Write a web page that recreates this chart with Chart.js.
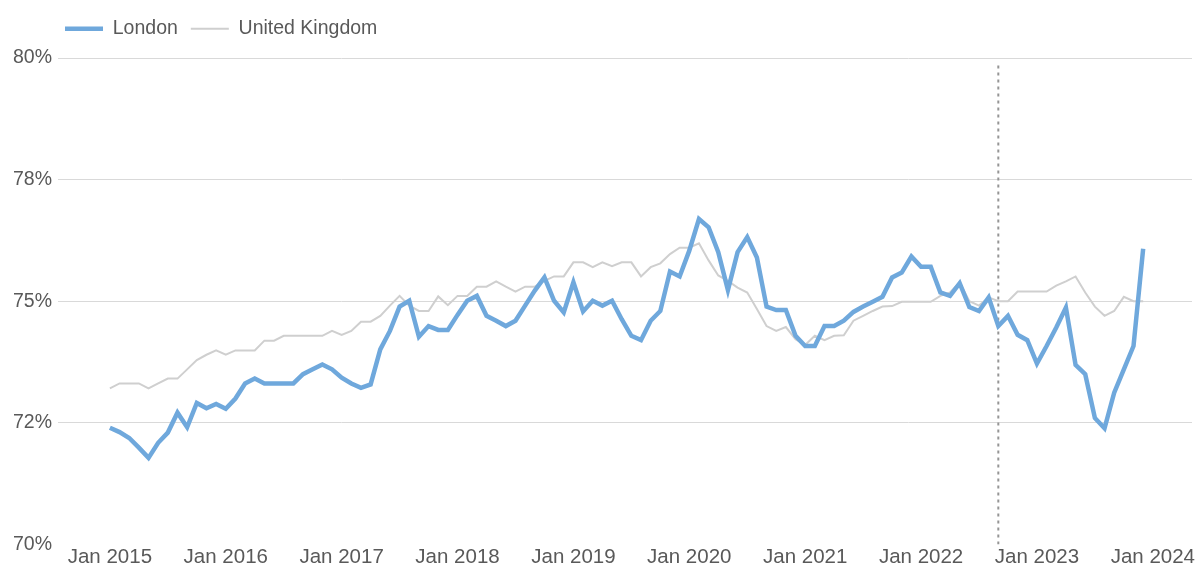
<!DOCTYPE html>
<html lang="en">
<head>
    <meta charset="UTF-8">
    <title>London vs United Kingdom</title>
    <script src="https://cdn.jsdelivr.net/npm/chart.js@4.4.1/dist/chart.umd.min.js"></script>
    <style>
        html, body { margin: 0; padding: 0; background: #ffffff; }
        #wrap { position: relative; width: 1198px; height: 566px; }
    </style>
</head>
<body>
    <div id="wrap"><canvas id="chart"></canvas></div>

    <script>
        // Monthly values, Jan 2015 to Dec 2023
        const londonValues = [
            72.40, 72.31, 72.19, 71.99, 71.78, 72.09, 72.30, 72.71, 72.41, 72.91, 72.80, 72.89,
            72.79, 73.00, 73.31, 73.41, 73.31, 73.31, 73.31, 73.31, 73.50, 73.60, 73.70, 73.60,
            73.43, 73.31, 73.22, 73.29, 74.01, 74.39, 74.89, 75.01, 74.27, 74.49, 74.41, 74.41,
            74.72, 75.01, 75.11, 74.70, 74.60, 74.49, 74.60, 74.91, 75.22, 75.49, 75.01, 74.77,
            75.39, 74.79, 75.01, 74.91, 75.01, 74.63, 74.29, 74.20, 74.60, 74.80, 75.61, 75.51,
            76.04, 76.69, 76.52, 76.01, 75.23, 76.01, 76.32, 75.90, 74.89, 74.82, 74.82, 74.29,
            74.08, 74.08, 74.49, 74.49, 74.60, 74.78, 74.89, 74.99, 75.09, 75.49, 75.59, 75.92,
            75.71, 75.71, 75.18, 75.11, 75.37, 74.88, 74.80, 75.08, 74.49, 74.70, 74.31, 74.20,
            73.72, 74.08, 74.46, 74.87, 73.69, 73.50, 72.60, 72.39, 73.12, 73.60, 74.08, 76.08
        ];
        const ukValues = [
            73.21, 73.31, 73.31, 73.31, 73.21, 73.31, 73.41, 73.41, 73.60, 73.79, 73.90, 73.99,
            73.90, 73.99, 73.99, 73.99, 74.19, 74.19, 74.29, 74.29, 74.29, 74.29, 74.29, 74.39,
            74.31, 74.39, 74.58, 74.58, 74.70, 74.91, 75.11, 74.91, 74.80, 74.80, 75.10, 74.92,
            75.11, 75.11, 75.30, 75.30, 75.41, 75.30, 75.20, 75.30, 75.30, 75.42, 75.51, 75.51,
            75.80, 75.80, 75.70, 75.80, 75.72, 75.80, 75.80, 75.51, 75.70, 75.78, 75.97, 76.10,
            76.10, 76.19, 75.84, 75.53, 75.42, 75.28, 75.18, 74.84, 74.49, 74.39, 74.47, 74.22,
            74.10, 74.29, 74.20, 74.29, 74.30, 74.60, 74.70, 74.80, 74.89, 74.90, 74.99, 74.99,
            74.99, 74.99, 75.11, 75.18, 75.39, 75.00, 74.91, 75.08, 75.00, 75.00, 75.20, 75.20,
            75.20, 75.20, 75.32, 75.41, 75.51, 75.18, 74.89, 74.70, 74.80, 75.09, 75.00, 75.00
        ];
        const yearTicks = ['Jan 2015', 'Jan 2016', 'Jan 2017', 'Jan 2018', 'Jan 2019',
                           'Jan 2020', 'Jan 2021', 'Jan 2022', 'Jan 2023', 'Jan 2024'];
        const yTickLabels = ['70%', '72%', '75%', '78%', '80%'];
        const markerMonth = 92;          // Sep 2022
        const markerRange = [70, 79.92];

        const toPoints = arr => arr.map((v, i) => ({ x: i, y: v }));

        // shift the legend to sit over the plot like the original
        const legendShift = {
            id: 'legendShift',
            afterLayout(chart) {
                if (chart.legend) {
                    chart.legend.left = 52;
                    chart.legend.top = 6;
                }
            }
        };

        new Chart(document.getElementById('chart'), {
            type: 'line',
            data: {
                datasets: [
                    {
                        label: 'London',
                        data: toPoints(londonValues),
                        borderColor: '#6fa8dc',
                        backgroundColor: '#6fa8dc',
                        borderWidth: 4.5,
                        pointRadius: 0,
                        tension: 0,
                        order: 0
                    },
                    {
                        label: 'United Kingdom',
                        data: toPoints(ukValues),
                        borderColor: '#cfcfcf',
                        backgroundColor: '#cfcfcf',
                        borderWidth: 2,
                        pointRadius: 0,
                        tension: 0,
                        order: 1
                    },
                    {
                        label: 'marker',
                        data: markerRange.map(v => ({ x: markerMonth, y: v })),
                        borderColor: '#959595',
                        borderWidth: 2,
                        borderDash: [3, 4],
                        pointRadius: 0,
                        order: 2
                    }
                ]
            },
            options: {
                responsive: true,
                maintainAspectRatio: false,
                animation: false,
                layout: { autoPadding: false, padding: { left: 7, right: 0, top: 15.5, bottom: -5 } },
                plugins: {
                    legend: {
                        position: 'top',
                        align: 'start',
                        labels: {
                            usePointStyle: true,
                            pointStyle: 'line',
                            pointStyleWidth: 38,
                            padding: 13,
                            color: '#595959',
                            font: { family: 'Liberation Sans, Arial, sans-serif', size: 19.5 },
                            filter: item => item.text !== 'marker'
                        }
                    },
                    tooltip: { enabled: false }
                },
                scales: {
                    x: {
                        type: 'linear',
                        min: -5.37,
                        max: 112.06,
                        grid: { display: false, drawTicks: false },
                        border: { display: false },
                        afterBuildTicks: scale => {
                            scale.ticks = yearTicks.map((_, k) => ({ value: k * 12 }));
                        },
                        ticks: {
                            autoSkip: false,
                            maxRotation: 0,
                            padding: 3,
                            color: '#595959',
                            font: { family: 'Liberation Sans, Arial, sans-serif', size: 20.5, lineHeight: 1 },
                            callback: (value, index) => yearTicks[index]
                        }
                    },
                    y: {
                        min: 70,
                        max: 80,
                        grid: {
                            drawTicks: false,
                            color: ctx => (ctx.tick && ctx.tick.value === 70) ? 'rgba(0,0,0,0)' : '#d9d9d9',
                            lineWidth: 1
                        },
                        border: { display: false },
                        ticks: {
                            stepSize: 2.5,
                            padding: 6,
                            color: '#595959',
                            font: { family: 'Liberation Sans, Arial, sans-serif', size: 19.5 },
                            callback: (value, index) => yTickLabels[index]
                        }
                    }
                }
            },
            plugins: [legendShift]
        });
    </script>
</body>
</html>
